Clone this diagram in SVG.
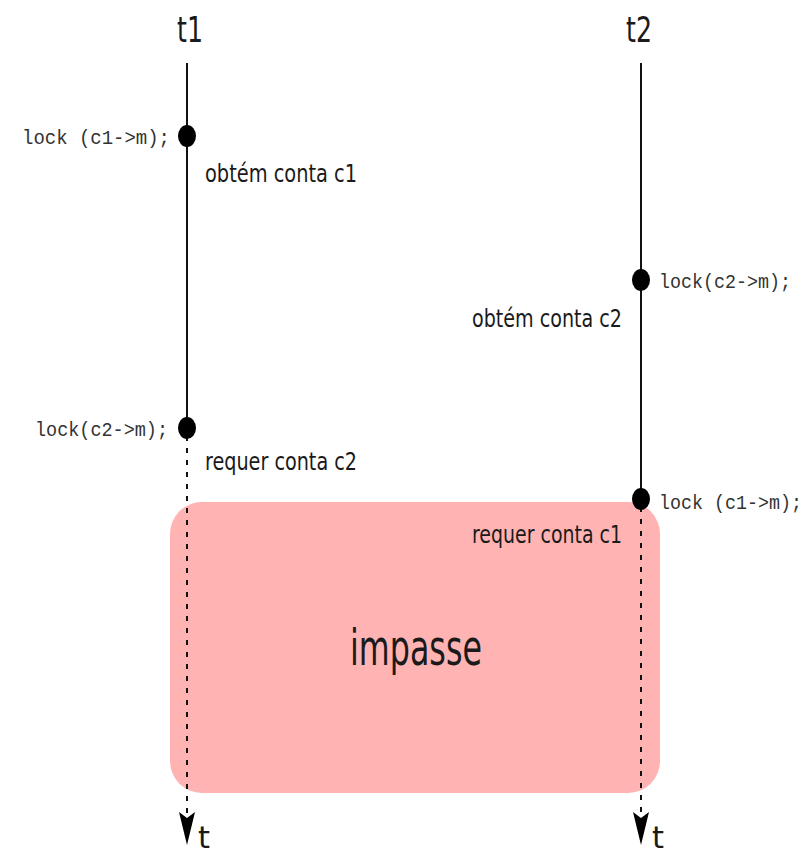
<svg xmlns="http://www.w3.org/2000/svg" width="811" height="855" viewBox="0 0 811 855">
  <style>
    .label { font-family: "DejaVu Sans", "Liberation Sans", sans-serif; fill: #1a1a1a; }
    .code { font-family: "Liberation Mono", "DejaVu Sans Mono", monospace; font-size: 21px; fill: #333; }
    .life { stroke: #111; stroke-width: 2; fill: none; }
    .wait { stroke: #111; stroke-width: 2; fill: none; stroke-dasharray: 5 7; }
    .dot { fill: #000; }
    .tip { fill: #000; }
  </style>
  <rect width="811" height="855" fill="#fff"/>

  <!-- deadlock region -->
  <g id="impasse">
    <rect x="170" y="502" width="490" height="291" rx="32" ry="32" fill="#ffb3b3"/>
    <text class="label" x="350" y="665" font-size="50" textLength="132" lengthAdjust="spacingAndGlyphs">impasse</text>
  </g>

  <!-- thread timelines -->
  <g id="connectors">
    <line class="life" x1="187" y1="63" x2="187" y2="428"/>
    <line class="wait" x1="187" y1="436" x2="187" y2="818"/>
    <path class="tip" d="M179,812 L187,818 L195,812 L187,845 Z"/>
    <line class="life" x1="641" y1="63" x2="641" y2="499"/>
    <line class="wait" x1="641" y1="507" x2="641" y2="818"/>
    <path class="tip" d="M633,812 L641,818 L649,812 L641,845 Z"/>
  </g>

  <g id="t1">
    <text class="label" x="190" y="42" font-size="35" text-anchor="middle" textLength="26" lengthAdjust="spacingAndGlyphs">t1</text>
    <text class="label" x="198" y="848" font-size="30" textLength="12" lengthAdjust="spacingAndGlyphs">t</text>
  </g>
  <g id="t2">
    <text class="label" x="639" y="42" font-size="35" text-anchor="middle" textLength="26" lengthAdjust="spacingAndGlyphs">t2</text>
    <text class="label" x="652" y="848" font-size="30" textLength="12" lengthAdjust="spacingAndGlyphs">t</text>
  </g>

  <g id="t1-lock-c1">
    <ellipse class="dot" cx="187" cy="136" rx="9" ry="11"/>
    <text class="code" x="22" y="144" textLength="148" lengthAdjust="spacingAndGlyphs">lock (c1-&gt;m);</text>
    <text class="label" x="205" y="182" font-size="24" textLength="152" lengthAdjust="spacingAndGlyphs">obtém conta c1</text>
  </g>

  <g id="t2-lock-c2">
    <ellipse class="dot" cx="641" cy="280" rx="9" ry="11"/>
    <text class="code" x="659" y="288" textLength="132" lengthAdjust="spacingAndGlyphs">lock(c2-&gt;m);</text>
    <text class="label" x="472" y="327" font-size="24" textLength="150" lengthAdjust="spacingAndGlyphs">obtém conta c2</text>
  </g>

  <g id="t1-lock-c2">
    <ellipse class="dot" cx="187" cy="428" rx="9" ry="11"/>
    <text class="code" x="35" y="436" textLength="133" lengthAdjust="spacingAndGlyphs">lock(c2-&gt;m);</text>
    <text class="label" x="205" y="470" font-size="24" textLength="152" lengthAdjust="spacingAndGlyphs">requer conta c2</text>
  </g>

  <g id="t2-lock-c1">
    <ellipse class="dot" cx="641" cy="499" rx="9" ry="11"/>
    <text class="code" x="659" y="509" font-size="18" textLength="143" lengthAdjust="spacingAndGlyphs">lock (c1-&gt;m);</text>
    <text class="label" x="472" y="543" font-size="24" textLength="150" lengthAdjust="spacingAndGlyphs">requer conta c1</text>
  </g>
</svg>
